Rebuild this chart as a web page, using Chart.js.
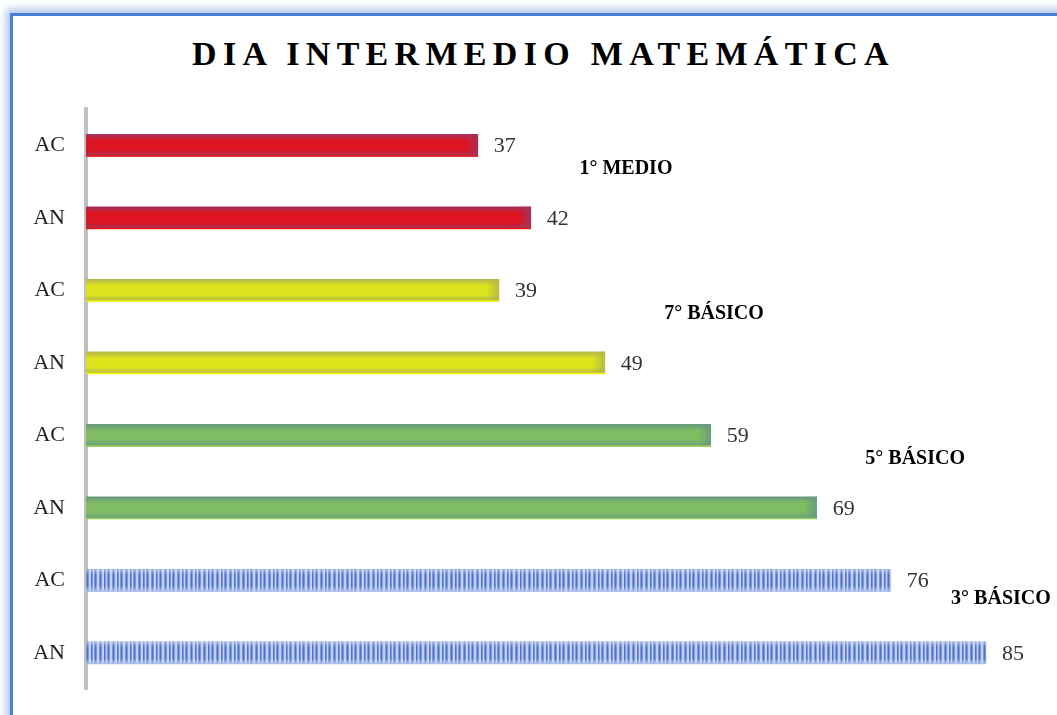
<!DOCTYPE html>
<html>
<head>
<meta charset="utf-8">
<script src="https://cdn.jsdelivr.net/npm/chart.js@4/dist/chart.umd.min.js"></script>
<style>
  html, body { margin: 0; padding: 0; background: #fff; }
  body { width: 1057px; height: 715px; position: relative; overflow: hidden; }
  #frame {
    position: absolute; left: 10px; top: 13px; width: 1200px; height: 900px;
    border-left: 3px solid #4A7ED8; border-top: 3px solid #4A7ED8;
    box-shadow: -4px -4px 8px rgba(74,126,216,0.45);
  }
  #title {
    position: absolute; left: 0; top: 37px; width: 1057px; padding-left: 30px; box-sizing: border-box;
    text-align: center; font: bold 34px "Liberation Serif", serif; line-height: 34px;
    letter-spacing: 6.3px; color: #000;
  }
  #wrap { position: absolute; left: 0; top: 0; width: 1057px; height: 715px; }
</style>
</head>
<body>
<div id="frame"></div>
<div id="title">DIA INTERMEDIO MATEMÁTICA</div>
<div id="wrap"><canvas id="chart"></canvas></div>
<script>
// ── Data ───────────────────────────────────────────────────────────────────
const grades    = ["1° MEDIO", "7° BÁSICO", "5° BÁSICO", "3° BÁSICO"];
const rowLabels = ["AC", "AN", "AC", "AN", "AC", "AN", "AC", "AN"];
const scores    = [37, 42, 39, 49, 59, 69, 76, 85];

// ── Styles ─────────────────────────────────────────────────────────────────
const groupStyle = [
  { mid: "#DE1420", edge: "#A3335C", line: "#F01414" },
  { mid: "#DDE41C", edge: "#B2B64A", line: "#F4F400" },
  { mid: "#80BC62", edge: "#679A80", line: "#92D050" },
  { mid: null,      edge: "#6A8ED6", line: "#A9BDEB" },
];

function stripePattern() {
  const c = document.createElement("canvas");
  c.width = 13; c.height = 4;
  const g = c.getContext("2d");
  g.fillStyle = "#C2CDF0"; g.fillRect(0, 0, 13, 4);
  g.fillStyle = "#4A72C9";
  [0, 4, 9].forEach(x => g.fillRect(x, 0, 1, 4));
  g.fillStyle = "#7C98DA";
  [1, 3, 5, 8, 10].forEach(x => g.fillRect(x, 0, 1, 4));
  return g.createPattern(c, "repeat");
}
const stripes = stripePattern();

function barFill(ctx) {
  const st = groupStyle[ctx.dataIndex >> 1];
  if (!st.mid) return stripes;
  const yScale = ctx.chart.scales.y;
  const yc = yScale ? yScale.getPixelForValue(ctx.dataIndex) : NaN;
  if (!isFinite(yc)) return st.mid;
  const grad = ctx.chart.ctx.createLinearGradient(0, yc - 11, 0, yc + 11);
  grad.addColorStop(0, st.edge);
  grad.addColorStop(0.3, st.mid);
  grad.addColorStop(0.7, st.mid);
  grad.addColorStop(1, st.edge);
  return grad;
}

function fade(hex, a) {
  const n = parseInt(hex.slice(1), 16);
  return `rgba(${n >> 16},${(n >> 8) & 255},${n & 255},${a})`;
}

// right-end shade, value labels and group labels
const extras = {
  id: "extras",
  afterDatasetsDraw(chart) {
    const { ctx, scales: { x, y } } = chart;
    const meta = chart.getDatasetMeta(0);
    ctx.save();
    meta.data.forEach((bar, i) => {
      const st = groupStyle[i >> 1];
      const h = bar.height;
      const top = bar.y - h / 2;
      if (st.mid) {
        const g = ctx.createLinearGradient(bar.x - 12, 0, bar.x, 0);
        g.addColorStop(0, fade(st.edge, 0));
        g.addColorStop(1, fade(st.edge, 0.95));
        ctx.fillStyle = g;
        ctx.fillRect(bar.x - 12, top, 12, h);
      } else {
        // soft light glow on the striped bars
        const g = ctx.createLinearGradient(0, top, 0, top + h);
        g.addColorStop(0, "rgba(225,232,250,0.55)");
        g.addColorStop(0.25, "rgba(225,232,250,0)");
        g.addColorStop(0.75, "rgba(225,232,250,0)");
        g.addColorStop(1, "rgba(225,232,250,0.55)");
        ctx.fillStyle = g;
        ctx.fillRect(bar.base, top, bar.x - bar.base, h);
      }
      ctx.fillStyle = st.line;
      ctx.fillRect(bar.base, top + h - 1, bar.x - bar.base, 1.5);

      ctx.fillStyle = "#333";
      ctx.font = "22px 'Liberation Serif', serif";
      ctx.textAlign = "left";
      ctx.textBaseline = "middle";
      ctx.fillText(String(scores[i]), bar.x + 16, bar.y + 1);
    });

    // grade names sit between the two bars of each group
    const startAt = [46.6, 54.6, 73.6, 81.7];
    const between = [0.33, 0.33, 0.33, 0.25];
    ctx.fillStyle = "#000";
    ctx.font = "bold 20px 'Liberation Serif', serif";
    ctx.textAlign = "left";
    ctx.textBaseline = "middle";
    grades.forEach((name, gi) => {
      const ya = y.getPixelForValue(gi * 2);
      const yb = y.getPixelForValue(gi * 2 + 1);
      ctx.fillText(name, x.getPixelForValue(startAt[gi]), ya + (yb - ya) * between[gi]);
    });
    ctx.restore();
  }
};

// ── Chart ──────────────────────────────────────────────────────────────────
new Chart(document.getElementById("chart"), {
  type: "bar",
  data: {
    labels: rowLabels,
    datasets: [{
      data: scores,
      backgroundColor: barFill,
      borderWidth: 0,
      barThickness: 22,
    }],
  },
  options: {
    indexAxis: "y",
    responsive: true,
    maintainAspectRatio: false,
    animation: false,
    layout: { padding: { top: 109, bottom: 26, left: 0, right: 18 } },
    plugins: {
      legend: { display: false },
      tooltip: { enabled: false },
    },
    scales: {
      x: { display: false, min: 0, max: 90 },
      y: {
        grid: { display: false, drawTicks: false },
        border: { display: true, color: "#C0C0C0", width: 4 },
        ticks: {
          color: "#222",
          padding: 21,
          font: { family: "'Liberation Serif', serif", size: 22 },
        },
        afterFit(axis) {
          axis.width = 86;
          axis.paddingTop = 0;
          axis.paddingBottom = 0;
        },
      },
    },
  },
  plugins: [extras],
});
</script>
</body>
</html>
